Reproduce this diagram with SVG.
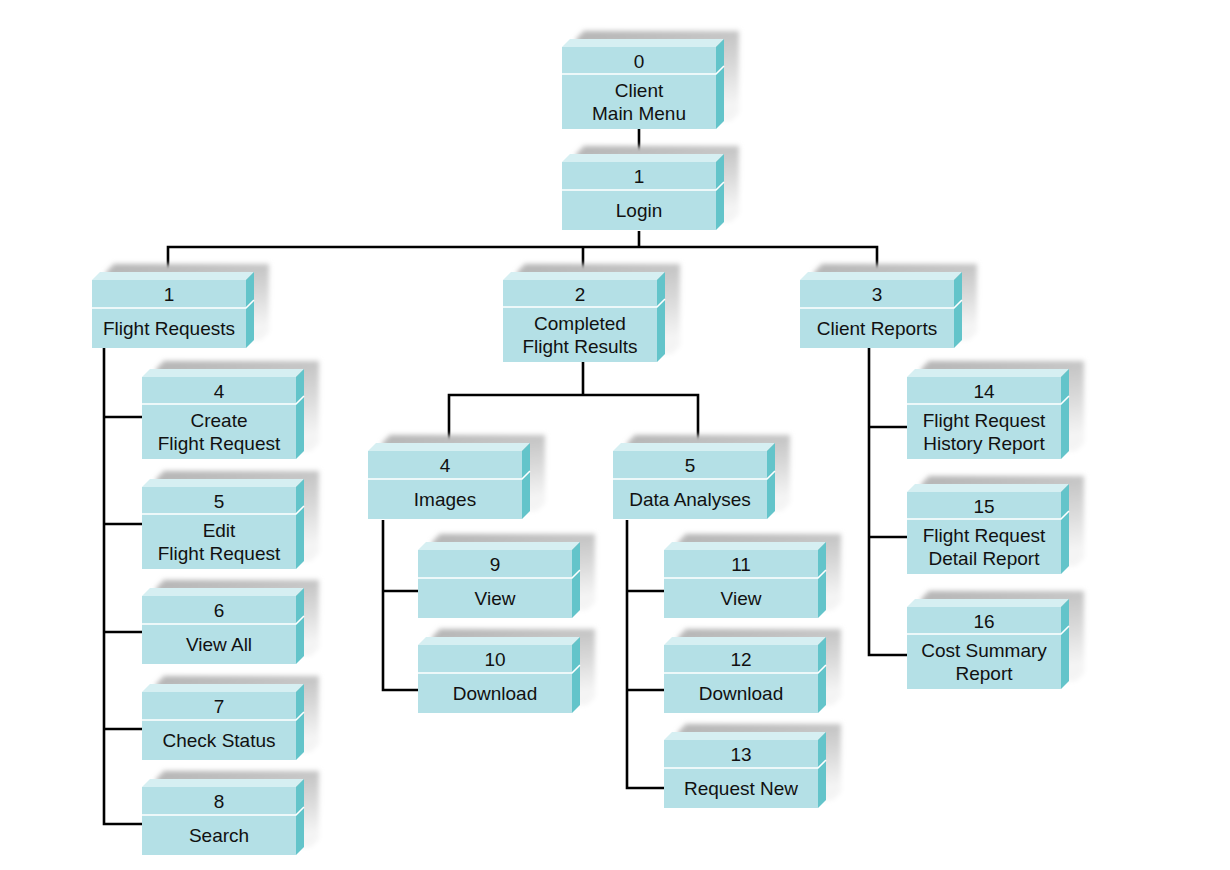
<svg xmlns="http://www.w3.org/2000/svg" xmlns:xlink="http://www.w3.org/1999/xlink" width="1230" height="870" viewBox="0 0 1230 870">
<style>
.t{font-family:"Liberation Sans",Arial,sans-serif;font-size:19px;fill:#111;text-anchor:middle}
.c{fill:none;stroke:#000;stroke-width:2.6}
.front{fill:#b4e0e6}
.top{fill:#d6eff2}
.side{fill:#63c4ca}
.div{stroke:#fff;stroke-width:1.6;fill:none}
.sh{fill:url(#shg);filter:url(#blur)}
</style>
<defs>
<linearGradient id="shg" x1="0" y1="0" x2="0.3" y2="1">
<stop offset="0" stop-color="#b2b2b2"/>
<stop offset="0.6" stop-color="#d8d8d8"/>
<stop offset="1" stop-color="#f4f4f4"/>
</linearGradient>
<filter id="blur" x="-20%" y="-20%" width="140%" height="140%"><feGaussianBlur stdDeviation="2.5"/></filter>
<g id="box68">
<polygon class="sh" points="14,-8 22,-16 177,-16 177,52 169,60 14,60"/>
<rect class="front" x="0" y="0" width="154" height="68"/>
<polygon class="top" points="0,0 8,-8 162,-8 154,0"/>
<polygon class="side" points="154,0 162,-8 162,60 154,68"/>
<path class="div" d="M0,28H154L162,20"/>
</g>
<g id="box82">
<polygon class="sh" points="14,-8 22,-16 177,-16 177,66 169,74 14,74"/>
<rect class="front" x="0" y="0" width="154" height="82"/>
<polygon class="top" points="0,0 8,-8 162,-8 154,0"/>
<polygon class="side" points="154,0 162,-8 162,74 154,82"/>
<path class="div" d="M0,27H154L162,19"/>
</g>
</defs>
<rect width="1230" height="870" fill="#fff"/>
<g id="connectors">
<path class="c" d="M639,129V155"/>
<path class="c" d="M639,231V247M168,273V247H877V273M583,247V273"/>
<path class="c" d="M104,348V824H142M104,417H142M104,524H142M104,632H142M104,729H142"/>
<path class="c" d="M583,362V395M449,444V395H698V444"/>
<path class="c" d="M383,520V690H418M383,591H418"/>
<path class="c" d="M627,520V788H664M627,591H664M627,690H664"/>
<path class="c" d="M869,348V655H907M869,427H907M869,537H907"/>
</g>
<g id="n0" transform="translate(562,47)"><use xlink:href="#box82"/><text class="t" x="77" y="20.5">0</text><text class="t" x="77" y="50">Client</text><text class="t" x="77" y="73">Main Menu</text></g>
<g id="n1" transform="translate(562,162)"><use xlink:href="#box68"/><text class="t" x="77" y="21">1</text><text class="t" x="77" y="55">Login</text></g>
<g id="n_fr" transform="translate(92,280)"><use xlink:href="#box68"/><text class="t" x="77" y="21">1</text><text class="t" x="77" y="55">Flight Requests</text></g>
<g id="n_cfr" transform="translate(503,280)"><use xlink:href="#box82"/><text class="t" x="77" y="20.5">2</text><text class="t" x="77" y="50">Completed</text><text class="t" x="77" y="73">Flight Results</text></g>
<g id="n_cr" transform="translate(800,280)"><use xlink:href="#box68"/><text class="t" x="77" y="21">3</text><text class="t" x="77" y="55">Client Reports</text></g>
<g id="n4" transform="translate(142,377)"><use xlink:href="#box82"/><text class="t" x="77" y="20.5">4</text><text class="t" x="77" y="50">Create</text><text class="t" x="77" y="73">Flight Request</text></g>
<g id="n5" transform="translate(142,487)"><use xlink:href="#box82"/><text class="t" x="77" y="20.5">5</text><text class="t" x="77" y="50">Edit</text><text class="t" x="77" y="73">Flight Request</text></g>
<g id="n6" transform="translate(142,596)"><use xlink:href="#box68"/><text class="t" x="77" y="21">6</text><text class="t" x="77" y="55">View All</text></g>
<g id="n7" transform="translate(142,692)"><use xlink:href="#box68"/><text class="t" x="77" y="21">7</text><text class="t" x="77" y="55">Check Status</text></g>
<g id="n8" transform="translate(142,787)"><use xlink:href="#box68"/><text class="t" x="77" y="21">8</text><text class="t" x="77" y="55">Search</text></g>
<g id="n_img" transform="translate(368,451)"><use xlink:href="#box68"/><text class="t" x="77" y="21">4</text><text class="t" x="77" y="55">Images</text></g>
<g id="n_da" transform="translate(613,451)"><use xlink:href="#box68"/><text class="t" x="77" y="21">5</text><text class="t" x="77" y="55">Data Analyses</text></g>
<g id="n9" transform="translate(418,550)"><use xlink:href="#box68"/><text class="t" x="77" y="21">9</text><text class="t" x="77" y="55">View</text></g>
<g id="n10" transform="translate(418,645)"><use xlink:href="#box68"/><text class="t" x="77" y="21">10</text><text class="t" x="77" y="55">Download</text></g>
<g id="n11" transform="translate(664,550)"><use xlink:href="#box68"/><text class="t" x="77" y="21">11</text><text class="t" x="77" y="55">View</text></g>
<g id="n12" transform="translate(664,645)"><use xlink:href="#box68"/><text class="t" x="77" y="21">12</text><text class="t" x="77" y="55">Download</text></g>
<g id="n13" transform="translate(664,740)"><use xlink:href="#box68"/><text class="t" x="77" y="21">13</text><text class="t" x="77" y="55">Request New</text></g>
<g id="n14" transform="translate(907,377)"><use xlink:href="#box82"/><text class="t" x="77" y="20.5">14</text><text class="t" x="77" y="50">Flight Request</text><text class="t" x="77" y="73">History Report</text></g>
<g id="n15" transform="translate(907,492)"><use xlink:href="#box82"/><text class="t" x="77" y="20.5">15</text><text class="t" x="77" y="50">Flight Request</text><text class="t" x="77" y="73">Detail Report</text></g>
<g id="n16" transform="translate(907,607)"><use xlink:href="#box82"/><text class="t" x="77" y="20.5">16</text><text class="t" x="77" y="50">Cost Summary</text><text class="t" x="77" y="73">Report</text></g>
</svg>
